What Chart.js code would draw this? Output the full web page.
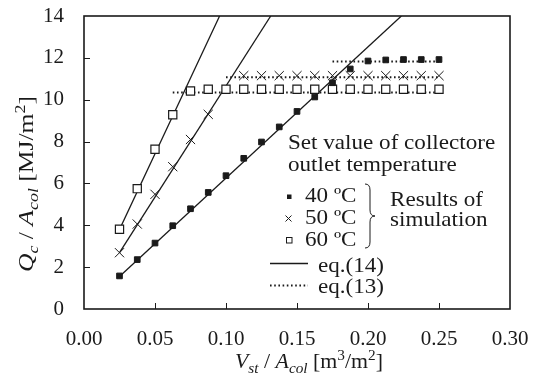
<!DOCTYPE html>
<html lang="en">
<head>
    <meta charset="UTF-8">
    <title>Collector heat vs storage volume</title>
    <script src="https://cdn.jsdelivr.net/npm/chart.js@4"></script>
    <style>
        body { margin: 0; background: #fff; }
        #wrap { width: 536px; height: 376px; position: relative; }
    </style>
</head>
<body>
<div id="wrap"><canvas id="chart"></canvas></div>
<script>
    // simulation results
    const v40 = [0.025, 0.0375, 0.05, 0.0625, 0.075, 0.0875, 0.1, 0.1125, 0.125, 0.1375, 0.15, 0.1625, 0.175, 0.1875, 0.2, 0.2125, 0.225, 0.2375, 0.25];
    const q40 = [1.58, 2.36, 3.15, 3.98, 4.79, 5.57, 6.37, 7.2, 7.98, 8.7, 9.44, 10.13, 10.81, 11.47, 11.85, 11.9, 11.92, 11.92, 11.92];
    const v50 = [0.025, 0.0375, 0.05, 0.0625, 0.075, 0.0875, 0.1125, 0.125, 0.1375, 0.15, 0.1625, 0.175, 0.1875, 0.2, 0.2125, 0.225, 0.2375, 0.25];
    const q50 = [2.69, 4.06, 5.48, 6.8, 8.1, 9.3, 11.15, 11.15, 11.15, 11.15, 11.15, 11.15, 11.15, 11.15, 11.15, 11.15, 11.15, 11.15];
    const v60 = [0.025, 0.0375, 0.05, 0.0625, 0.075, 0.0875, 0.1, 0.1125, 0.125, 0.1375, 0.15, 0.1625, 0.175, 0.1875, 0.2, 0.2125, 0.225, 0.2375, 0.25];
    const q60 = [3.81, 5.75, 7.63, 9.28, 10.42, 10.5, 10.5, 10.5, 10.5, 10.5, 10.5, 10.5, 10.5, 10.5, 10.5, 10.5, 10.5, 10.5, 10.5];

    // eq.(14) straight lines and eq.(13) limits, as end points
    const eq14_40 = [[0.025, 1.55], [0.2235, 14]];
    const eq14_50 = [[0.025, 2.69], [0.1315, 14]];
    const eq14_60 = [[0.025, 3.8], [0.0955, 14]];
    const eq13_40 = [[0.175, 11.82], [0.25, 11.82]];
    const eq13_50 = [[0.1, 11.07], [0.25, 11.07]];
    const eq13_60 = [[0.0625, 10.35], [0.25, 10.35]];

    const xTicks = [0, 0.05, 0.1, 0.15, 0.2, 0.25, 0.3];
    const yTicks = [0, 2, 4, 6, 8, 10, 12, 14];

    const ink = '#1a1a1a';
    const serif = '"Liberation Serif", "DejaVu Serif", serif';

    const pts = (xs, ys) => xs.map((x, i) => ({ x: x, y: ys[i] }));
    const seg = arr => arr.map(p => ({ x: p[0], y: p[1] }));

    function lineSet(data, dotted) {
        return {
            data: seg(data),
            showLine: true,
            borderColor: ink,
            borderWidth: dotted ? 2 : 1.3,
            borderDash: dotted ? [1.6, 2.6] : [],
            pointRadius: 0,
            order: 2
        };
    }

    // draws frame, inward ticks, axis titles and the legend text block
    const decor = {
        id: 'decor',
        afterDraw(chart) {
            const ctx = chart.ctx;
            const a = chart.chartArea;
            const xs = chart.scales.x, ys = chart.scales.y;
            ctx.save();
            ctx.strokeStyle = ink;
            ctx.lineWidth = 1.6;
            ctx.strokeRect(a.left, a.top, a.right - a.left, a.bottom - a.top);

            ctx.lineWidth = 1;
            xTicks.slice(1, -1).forEach(v => {
                const px = Math.round(xs.getPixelForValue(v)) + 0.5;
                ctx.beginPath(); ctx.moveTo(px, a.bottom); ctx.lineTo(px, a.bottom - 6); ctx.stroke();
            });
            yTicks.slice(1, -1).forEach(v => {
                const py = Math.round(ys.getPixelForValue(v)) + 0.5;
                ctx.beginPath(); ctx.moveTo(a.left, py); ctx.lineTo(a.left + 6, py); ctx.stroke();
            });

            ctx.fillStyle = ink;
            ctx.textBaseline = 'alphabetic';

            // runs: [text, italic, shift(0 normal, 1 sub, -1 sup)]
            function setRunFont(r) {
                ctx.font = (r[1] ? 'italic ' : '') + (r[2] ? 14 : 20) + 'px ' + serif;
            }
            function runWidth(runs) {
                let w = 0;
                runs.forEach(r => { setRunFont(r); w += ctx.measureText(r[0]).width; });
                return w;
            }
            // draws runs centred on (cx, base) stretched to a target length
            function drawTitle(runs, cx, base, target, angle) {
                const w = runWidth(runs);
                const k = target / w;
                ctx.save();
                ctx.translate(cx, base);
                ctx.rotate(angle);
                ctx.scale(k, 1);
                let x = -w / 2;
                runs.forEach(r => {
                    setRunFont(r);
                    const dy = r[2] === 1 ? 5 : (r[2] === -1 ? -8 : 0);
                    ctx.fillText(r[0], x, dy);
                    x += ctx.measureText(r[0]).width;
                });
                ctx.restore();
            }

            const xTitle = [['V', true, 0], ['st', true, 1], [' / ', false, 0], ['A', true, 0], ['col', true, 1],
                            [' [m', false, 0], ['3', false, -1], ['/m', false, 0], ['2', false, -1], [']', false, 0]];
            drawTitle(xTitle, 309, 368, 148, 0);

            const yTitle = [['Q', true, 0], ['c', true, 1], [' / ', false, 0], ['A', true, 0], ['col', true, 1],
                            [' [MJ/m', false, 0], ['2', false, -1], [']', false, 0]];
            drawTitle(yTitle, 33, 184, 176, -Math.PI / 2);

            // legend block, text slightly widened like the original
            function txt(s, x, y) {
                ctx.save();
                ctx.translate(x, y);
                ctx.scale(1.1, 1);
                ctx.font = '21px ' + serif;
                ctx.fillText(s, 0, 0);
                ctx.restore();
            }
            txt('Set value of collectore', 288, 149);
            txt('outlet temperature', 288, 171);
            txt('40 \u00baC', 305, 202);
            txt('50 \u00baC', 305, 224);
            txt('60 \u00baC', 305, 246);
            txt('Results of', 390, 206);
            txt('simulation', 390, 226);
            txt('eq.(14)', 318, 272);
            txt('eq.(13)', 318, 293);

            // legend symbols
            ctx.fillRect(287, 194.5, 4.5, 4.5);
            ctx.lineWidth = 1;
            ctx.beginPath();
            ctx.moveTo(285.5, 215.5); ctx.lineTo(291.5, 221.5);
            ctx.moveTo(291.5, 215.5); ctx.lineTo(285.5, 221.5);
            ctx.stroke();
            ctx.strokeRect(286.5, 237.5, 5.5, 5.5);

            ctx.lineWidth = 1.3;
            ctx.beginPath(); ctx.moveTo(270, 263.5); ctx.lineTo(308, 263.5); ctx.stroke();
            ctx.lineWidth = 2;
            ctx.setLineDash([1.6, 2.6]);
            ctx.beginPath(); ctx.moveTo(270, 285.5); ctx.lineTo(308, 285.5); ctx.stroke();
            ctx.setLineDash([]);

            // curly brace
            ctx.lineWidth = 1;
            ctx.beginPath();
            ctx.moveTo(365, 184);
            ctx.quadraticCurveTo(370, 184, 370, 190);
            ctx.lineTo(370, 210);
            ctx.quadraticCurveTo(370, 216, 375, 216);
            ctx.quadraticCurveTo(370, 216, 370, 222);
            ctx.lineTo(370, 242);
            ctx.quadraticCurveTo(370, 248, 365, 248);
            ctx.stroke();
            ctx.restore();
        }
    };

    new Chart(document.getElementById('chart'), {
        type: 'scatter',
        data: {
            datasets: [
                { label: '40 ºC', data: pts(v40, q40), pointStyle: 'rect', pointRadius: 4, backgroundColor: ink, borderColor: ink, borderWidth: 1, order: 0 },
                { label: '50 ºC', data: pts(v50, q50), pointStyle: 'crossRot', pointRadius: 6.5, borderColor: ink, borderWidth: 1, order: 0 },
                { label: '60 ºC', data: pts(v60, q60), pointStyle: 'rect', pointRadius: 5.8, backgroundColor: '#fff', borderColor: ink, borderWidth: 1.2, order: 0 },
                lineSet(eq14_40, false),
                lineSet(eq14_50, false),
                lineSet(eq14_60, false),
                lineSet(eq13_40, true),
                lineSet(eq13_50, true),
                lineSet(eq13_60, true)
            ]
        },
        options: {
            responsive: true,
            maintainAspectRatio: false,
            animation: false,
            layout: { padding: { left: 0, right: 26, top: 16, bottom: 0 } },
            plugins: {
                legend: { display: false },
                tooltip: { enabled: false }
            },
            scales: {
                x: {
                    type: 'linear',
                    min: 0,
                    max: 0.3,
                    afterBuildTicks: s => { s.ticks = xTicks.map(v => ({ value: v })); },
                    afterFit: s => { s.height = 67; s.paddingLeft = 0; s.paddingRight = 0; },
                    grid: { display: false, drawTicks: false },
                    border: { display: false },
                    ticks: {
                        color: ink,
                        padding: 18,
                        font: { family: serif, size: 21 },
                        callback: v => Number(v).toFixed(2),
                        maxRotation: 0
                    }
                },
                y: {
                    type: 'linear',
                    min: 0,
                    max: 14,
                    afterBuildTicks: s => { s.ticks = yTicks.map(v => ({ value: v })); },
                    afterFit: s => { s.width = 84; s.paddingTop = 0; s.paddingBottom = 0; },
                    grid: { display: false, drawTicks: false },
                    border: { display: false },
                    ticks: {
                        color: ink,
                        padding: 20,
                        font: { family: serif, size: 21 }
                    }
                }
            }
        },
        plugins: [decor]
    });
</script>
</body>
</html>
